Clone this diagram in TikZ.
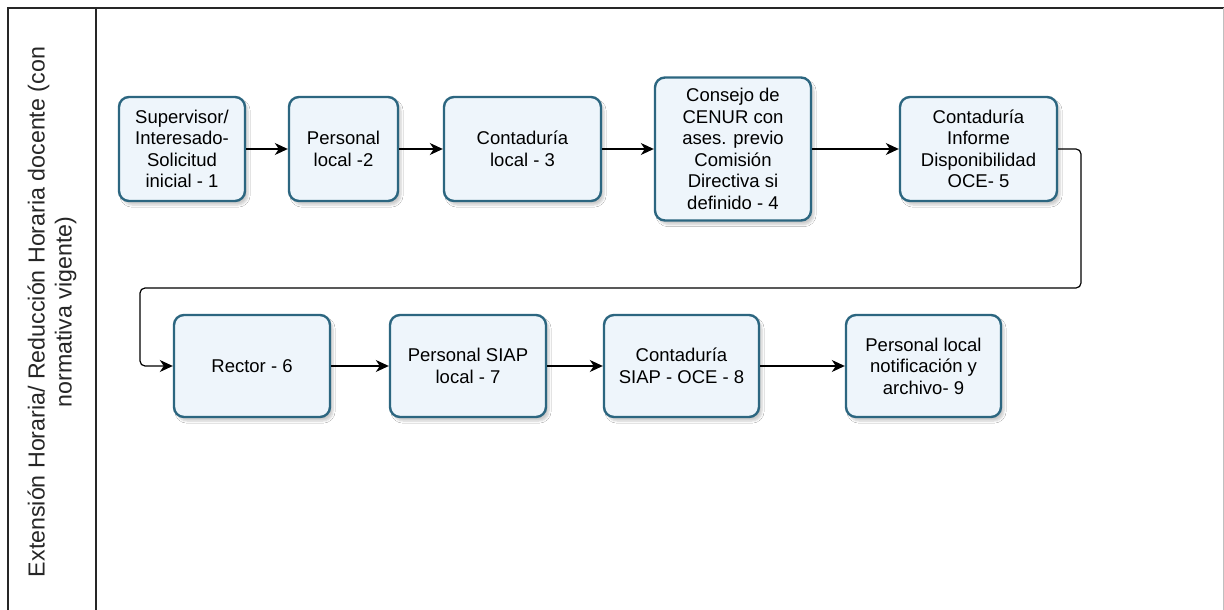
\documentclass[tikz,border=0pt]{standalone}
\usepackage{fontspec}
\setmainfont{Liberation Sans}
\usetikzlibrary{arrows.meta,shadows.blur}
\definecolor{boxline}{RGB}{44,102,128}
\definecolor{boxfill}{RGB}{238,245,251}
\begin{document}
\begin{tikzpicture}[x=1pt,y=-1pt,
  proc/.style={draw=boxline, line width=2.4pt, rounded corners=10pt, fill=boxfill,
    align=center, inner sep=0pt, font=\fontsize{18.5}{21.5}\selectfont,
    blur shadow={shadow xshift=3pt, shadow yshift=-4pt, shadow opacity=20, shadow blur steps=6}},
  flow/.style={line width=1.2pt, draw=black, -{Stealth[length=13pt,width=12pt,inset=4pt]}},
  frame/.style={line width=1.5pt, draw=black!85}]
\useasboundingbox (0,0) rectangle (1224,610);
\fill[white] (0,0) rectangle (1224,610);
% frame
\draw[frame] (8,610) -- (8,8) -- (1224,8);
\draw[frame] (96,8) -- (96,610);
\draw[black!25, line width=1pt] (1223,8) -- (1223,610);
% lane label
\node[rotate=90, align=center, text=black!85, font=\fontsize{23.2}{27}\selectfont] (lane) at (52,312)
  {Extensión Horaria/ Reducción Horaria docente (con\\normativa vigente)};
% row 1
\node[proc, minimum width=126pt, minimum height=104pt] (b1) at (182,149) {Supervisor/\\Interesado-\\Solicitud\\inicial - 1};
\node[proc, minimum width=109pt, minimum height=104pt] (b2) at (343.5,149) {Personal\\local -2};
\node[proc, minimum width=157pt, minimum height=104pt] (b3) at (522.5,149) {Contaduría\\local - 3};
\node[proc, minimum width=156pt, minimum height=143pt] (b4) at (733,149) {Consejo de\\CENUR con\\ases. previo\\Comisión\\Directiva si\\definido - 4};
\node[proc, minimum width=157pt, minimum height=104pt] (b5) at (978.5,149) {Contaduría\\Informe\\Disponibilidad\\OCE- 5};
% row 2
\node[proc, minimum width=156pt, minimum height=102pt] (b6) at (252,366) {Rector - 6};
\node[proc, minimum width=156pt, minimum height=102pt] (b7) at (468,366) {Personal SIAP\\local - 7};
\node[proc, minimum width=155pt, minimum height=102pt] (b8) at (681.5,366) {Contaduría\\SIAP - OCE - 8};
\node[proc, minimum width=155pt, minimum height=102pt] (b9) at (923.5,366) {Personal local\\notificación y\\archivo- 9};
% connectors
\draw[flow] (b1) -- (b2);
\draw[flow] (b2) -- (b3);
\draw[flow] (b3) -- (b4);
\draw[flow] (b4) -- (b5);
\coordinate (lr) at (1081,149);
\coordinate (lrb) at (1081,288);
\coordinate (llb) at (140,288);
\coordinate (ll) at (140,366);
\draw[flow, rounded corners=5pt] (b5.east) -- (lr) -- (lrb) -- (llb) -- (ll) -- (b6.west);
\draw[flow] (b6) -- (b7);
\draw[flow] (b7) -- (b8);
\draw[flow] (b8) -- (b9);
\end{tikzpicture}
\end{document}
